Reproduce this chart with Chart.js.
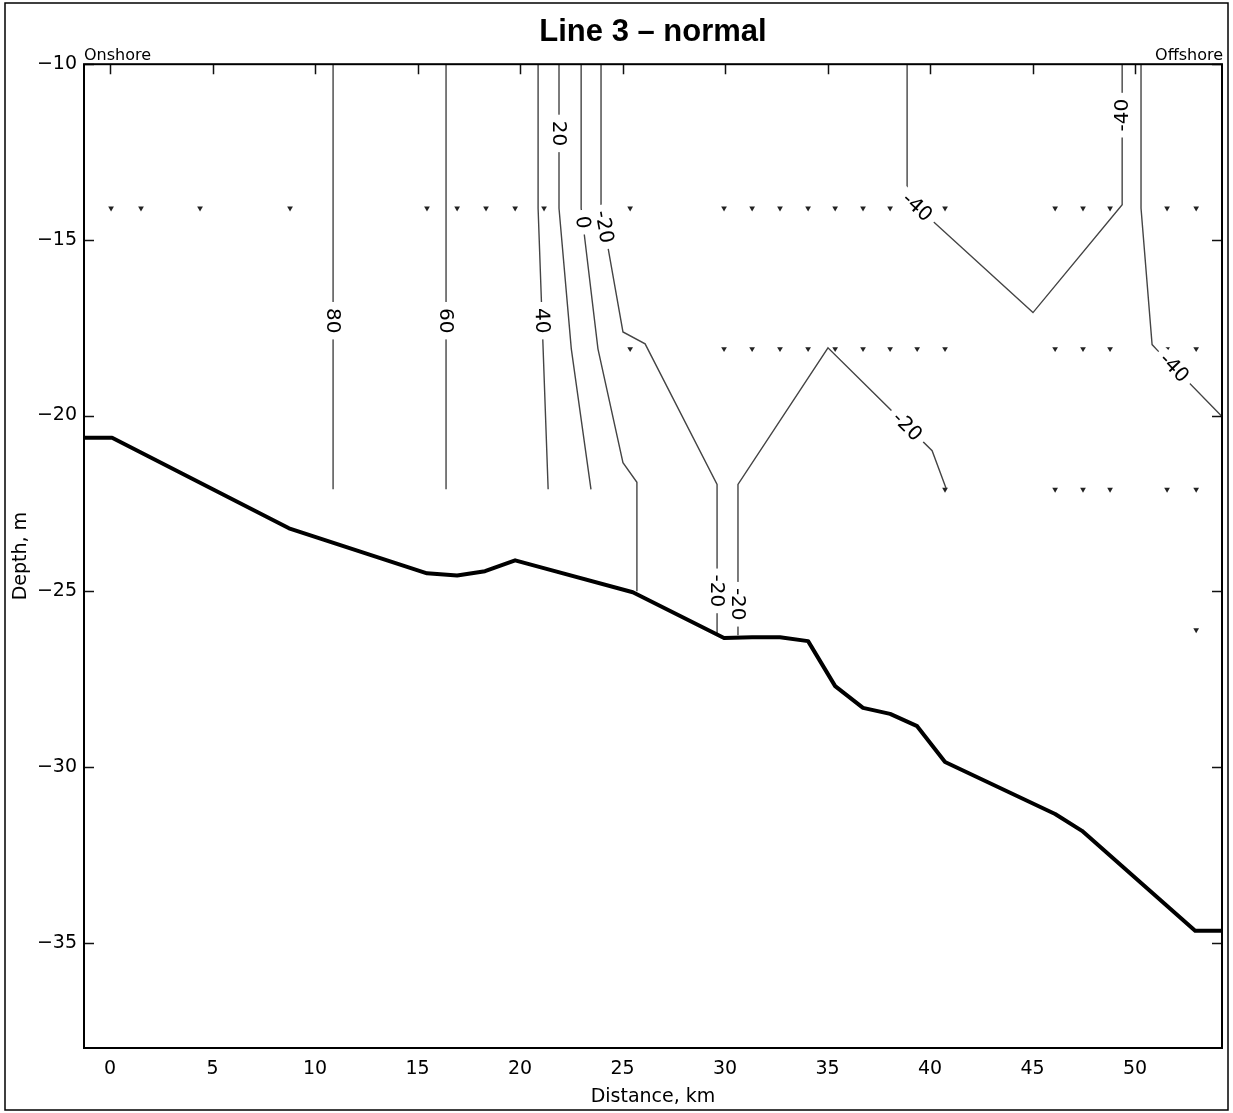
<!DOCTYPE html>
<html>
<head>
<meta charset="utf-8">
<title>Line 3 – normal</title>
<script src="https://cdn.jsdelivr.net/npm/chart.js@4.4.1/dist/chart.umd.min.js"></script>
<style>
  html, body { margin: 0; padding: 0; background: #fff; }
  canvas { display: block; }
</style>
</head>
<body>
<canvas id="sectionChart" width="1233" height="1113"></canvas>
<script>
// Axis ticks
const xTicks = [0, 5, 10, 15, 20, 25, 30, 35, 40, 45, 50];
const yTicks = [-35, -30, -25, -20, -15, -10];

// Sea floor along the line (km, m)
const bedKm = [-1.27, 0.1, 8.73, 15.46, 16.93, 18.29, 19.76, 21.2, 25.5, 29.95, 31.32, 32.68, 34.05, 35.37, 36.73, 38.05, 39.37, 40.73, 46.1, 47.41, 52.93, 54.24];
const bedDepth = [-20.63, -20.63, -23.21, -24.49, -24.55, -24.43, -24.12, -24.35, -25.03, -26.33, -26.31, -26.31, -26.42, -27.7, -28.32, -28.49, -28.84, -29.86, -31.34, -31.82, -34.66, -34.66];

// Sample positions, one array per sampling depth
const sampleDepths = [-14.1, -18.1, -22.1, -26.1];
const row1Km = [0.05, 1.51, 4.39, 8.78, 15.46, 16.93, 18.34, 19.76, 21.17, 25.37, 29.95, 31.32, 32.68, 34.05, 35.37, 36.73, 38.05, 39.37, 40.73, 46.1, 47.46, 48.78, 51.56, 52.98];
const row2Km = [25.37, 29.95, 31.32, 32.68, 34.05, 35.37, 36.73, 38.05, 39.37, 40.73, 46.1, 47.46, 48.78, 51.56, 52.98];
const row3Km = [40.73, 46.1, 47.46, 48.78, 51.56, 52.98];
const row4Km = [52.98];

// Contour lines as [km, depth] vertices
const c80 = [[10.88, -10], [10.88, -22.1]];
const c60 = [[16.39, -10], [16.39, -22.1]];
const c40 = [[20.88, -10], [20.88, -14.1], [21.37, -22.1]];
const c20 = [[21.9, -10], [21.9, -14.1], [22.5, -18.1], [23.46, -22.1]];
const c0 = [[22.98, -10], [22.98, -14.1], [23.8, -18.1], [25.02, -21.34], [25.7, -21.9], [25.7, -25.0]];
const cM20a = [[23.95, -10], [23.95, -14.1], [25.02, -17.62], [26.1, -17.96], [29.61, -21.96], [29.61, -26.2]];
const cM20b = [[40.78, -22.07], [40.1, -21.0], [35.02, -18.07], [30.63, -21.96], [30.63, -26.25]];
const cM40a = [[38.88, -10], [38.88, -13.8], [45.02, -17.07], [49.37, -14.0], [49.37, -10]];
const cM40b = [[50.29, -10], [50.29, -14.1], [50.83, -17.98], [51.07, -18.13], [54.24, -20.03]];

const contourLines = [c80, c60, c40, c20, c0, cM20a, cM20b, cM40a, cM40b];
const contourLevels = [80, 60, 40, 20, 0, -20, -20, -40, -40];

// Contour labels: which line, and roughly where on it
const labelLine = [0, 1, 2, 3, 4, 5, 5, 6, 6, 7, 7, 8];
const labelKm = [10.88, 16.39, 21.05, 21.9, 23.05, 24.1, 29.61, 30.63, 38.88, 39.4, 49.37, 51.9];
const labelDepth = [-17.3, -17.3, -17.3, -11.97, -14.5, -14.63, -24.99, -25.37, -20.31, -14.05, -11.45, -18.64];

const smallFont = 'DejaVu Sans';

function toPoints(kms, depths) {
  return kms.map((k, i) => ({ x: k, y: depths[i] }));
}

// snap a label onto its line and get the line direction there
function placeLabel(chart, pts, km, depth) {
  const xs = chart.scales.x, ys = chart.scales.y;
  const px = xs.getPixelForValue(km), py = ys.getPixelForValue(depth);
  let best = null;
  for (let i = 0; i < pts.length - 1; i++) {
    const ax = xs.getPixelForValue(pts[i][0]), ay = ys.getPixelForValue(pts[i][1]);
    const bx = xs.getPixelForValue(pts[i + 1][0]), by = ys.getPixelForValue(pts[i + 1][1]);
    const dx = bx - ax, dy = by - ay;
    let t = ((px - ax) * dx + (py - ay) * dy) / (dx * dx + dy * dy);
    t = Math.max(0, Math.min(1, t));
    const qx = ax + t * dx, qy = ay + t * dy;
    const d = Math.hypot(px - qx, py - qy);
    if (!best || d < best.d) best = { d: d, x: qx, y: qy, angle: Math.atan2(dy, dx) };
  }
  let a = best.angle;
  if (a > Math.PI / 2 + 1e-6) a -= Math.PI;
  if (a < -Math.PI / 2 - 1e-6) a += Math.PI;
  return { x: best.x, y: best.y, angle: a };
}

const sectionDecor = {
  id: 'sectionDecor',
  beforeDraw(chart) {
    const ctx = chart.ctx;
    ctx.save();
    ctx.fillStyle = '#fff';
    ctx.fillRect(0, 0, chart.width, chart.height);
    ctx.restore();
  },
  afterDatasetsDraw(chart) {
    const ctx = chart.ctx;
    ctx.save();
    ctx.font = '20px "' + smallFont + '"';
    ctx.textAlign = 'center';
    ctx.textBaseline = 'middle';
    labelLine.forEach((li, i) => {
      const p = placeLabel(chart, contourLines[li], labelKm[i], labelDepth[i]);
      const text = String(contourLevels[li]);
      const w = ctx.measureText(text).width;
      ctx.save();
      ctx.translate(p.x, p.y);
      ctx.rotate(p.angle);
      ctx.fillStyle = '#fff';
      ctx.fillRect(-w / 2 - 6, -8, w + 12, 16);
      ctx.fillStyle = '#000';
      ctx.fillText(text, 0, 1);
      ctx.restore();
    });
    ctx.restore();
  },
  afterDraw(chart) {
    const ctx = chart.ctx;
    const { left, right, top, bottom } = chart.chartArea;
    const xs = chart.scales.x, ys = chart.scales.y;
    ctx.save();
    // inward ticks
    ctx.strokeStyle = '#111';
    ctx.lineWidth = 1.5;
    ctx.beginPath();
    xTicks.forEach(v => {
      const x = Math.round(xs.getPixelForValue(v)) + 0.5;
      ctx.moveTo(x, top);
      ctx.lineTo(x, top + 10);
    });
    yTicks.forEach(v => {
      const y = Math.round(ys.getPixelForValue(v)) + 0.5;
      ctx.moveTo(left, y);
      ctx.lineTo(left + 10, y);
      ctx.moveTo(right, y);
      ctx.lineTo(right - 10, y);
    });
    ctx.stroke();
    // plot box
    ctx.strokeStyle = '#000';
    ctx.lineWidth = 2;
    ctx.strokeRect(left, top, right - left, bottom - top);
    // ends of the line
    ctx.fillStyle = '#000';
    ctx.font = '16px "' + smallFont + '"';
    ctx.textBaseline = 'alphabetic';
    ctx.textAlign = 'left';
    ctx.fillText('Onshore', left, top - 4);
    ctx.textAlign = 'right';
    ctx.fillText('Offshore', right + 1, top - 4);
    // figure border
    ctx.lineWidth = 1.5;
    ctx.strokeRect(5, 3, 1223, 1107);
    ctx.restore();
  }
};

document.addEventListener('DOMContentLoaded', function() {
  const datasets = [];

  datasets.push({
    label: 'Bottom',
    data: toPoints(bedKm, bedDepth),
    showLine: true,
    borderColor: '#000',
    borderWidth: 4,
    pointRadius: 0,
    borderJoinStyle: 'round',
    tension: 0
  });

  contourLines.forEach((pts, i) => {
    datasets.push({
      label: String(contourLevels[i]),
      data: pts.map(p => ({ x: p[0], y: p[1] })),
      showLine: true,
      borderColor: '#444',
      borderWidth: 1.4,
      pointRadius: 0,
      tension: 0
    });
  });

  [row1Km, row2Km, row3Km, row4Km].forEach((kms, i) => {
    datasets.push({
      label: 'Samples ' + sampleDepths[i],
      data: kms.map(k => ({ x: k, y: sampleDepths[i] })),
      showLine: false,
      pointStyle: 'triangle',
      rotation: 180,
      pointRadius: 3.3,
      backgroundColor: '#222',
      borderColor: '#222',
      borderWidth: 0
    });
  });

  const ctx = document.getElementById('sectionChart').getContext('2d');
  const sectionChart = new Chart(ctx, {
    type: 'scatter',
    data: { datasets: datasets },
    plugins: [sectionDecor],
    options: {
      responsive: false,
      animation: false,
      layout: { padding: { left: 0, right: 11, top: 0, bottom: 0 } },
      plugins: {
        legend: { display: false },
        tooltip: { enabled: false },
        title: {
          display: true,
          text: 'Line 3 \u2013 normal',
          fullSize: false,
          color: '#000',
          font: { family: 'Liberation Sans', size: 31, weight: 'bold' },
          padding: { top: 14, bottom: 13 }
        }
      },
      scales: {
        x: {
          type: 'linear',
          min: -1.27,
          max: 54.24,
          grid: { display: false, drawTicks: false },
          border: { display: false },
          afterBuildTicks: scale => { scale.ticks = xTicks.map(v => ({ value: v })); },
          afterFit: scale => { scale.height = 65; },
          ticks: {
            color: '#000',
            padding: 10,
            maxRotation: 0,
            font: { family: smallFont, size: 19 },
            callback: v => String(v)
          },
          title: {
            display: true,
            text: 'Distance, km',
            color: '#000',
            font: { family: smallFont, size: 19 },
            padding: { top: 0, bottom: 5 }
          }
        },
        y: {
          type: 'linear',
          min: -38,
          max: -10,
          grid: { display: false, drawTicks: false },
          border: { display: false },
          afterBuildTicks: scale => { scale.ticks = yTicks.map(v => ({ value: v })); },
          afterFit: scale => { scale.width = 84; },
          ticks: {
            color: '#000',
            padding: 7,
            font: { family: smallFont, size: 19 },
            callback: v => String(v).replace('-', '\u2212')
          },
          title: {
            display: true,
            text: 'Depth, m',
            color: '#000',
            font: { family: smallFont, size: 19 },
            padding: { top: 10, bottom: 0 }
          }
        }
      }
    }
  });
});
</script>
</body>
</html>
